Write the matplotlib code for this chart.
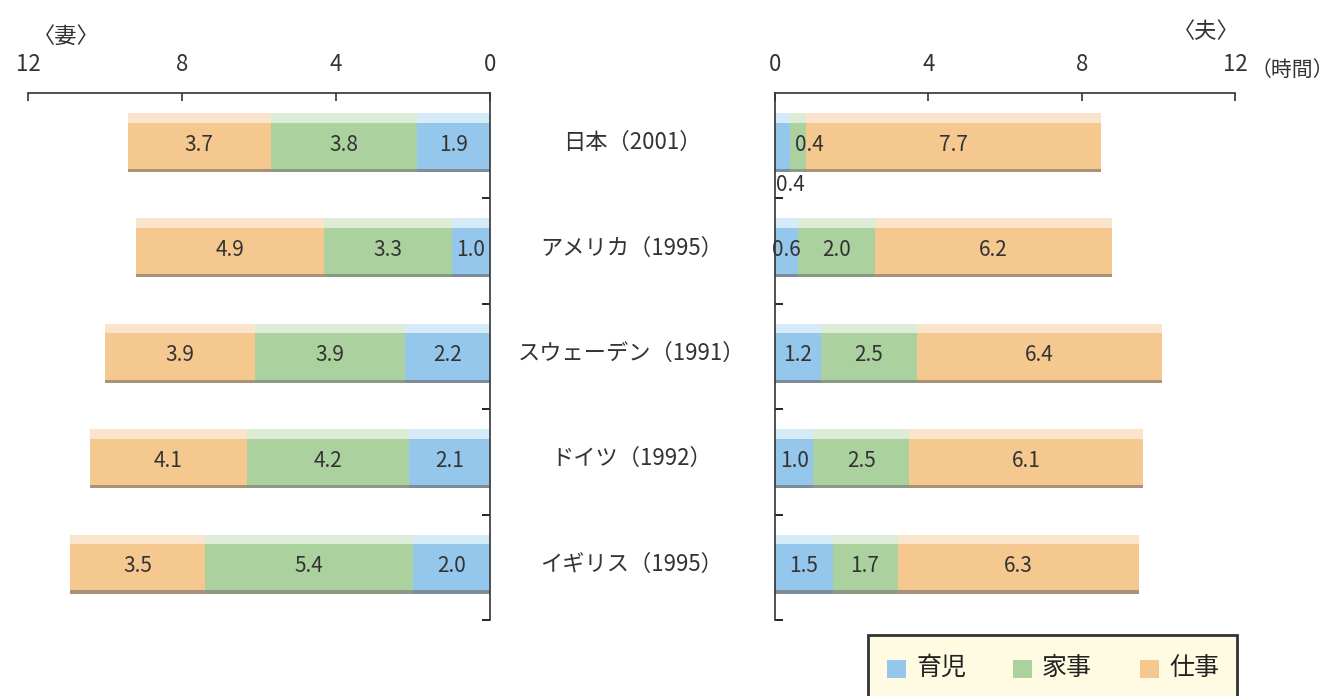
import matplotlib
matplotlib.use("Agg")
import matplotlib.pyplot as plt
import matplotlib.transforms as mtransforms
from matplotlib.patches import Rectangle
import numpy as np

plt.rcParams['font.family'] = ['Noto Sans CJK JP', 'DejaVu Sans']

# data (hours per day)
countries = ["日本（2001）", "アメリカ（1995）", "スウェーデン（1991）", "ドイツ（1992）", "イギリス（1995）"]
series = ["育児", "家事", "仕事"]
wife_childcare = [1.9, 1.0, 2.2, 2.1, 2.0]
wife_housework = [3.8, 3.3, 3.9, 4.2, 5.4]
wife_work = [3.7, 4.9, 3.9, 4.1, 3.5]
husband_childcare = [0.4, 0.6, 1.2, 1.0, 1.5]
husband_housework = [0.4, 2.0, 2.5, 2.5, 1.7]
husband_work = [7.7, 6.2, 6.4, 6.1, 6.3]
ticks = [0, 4, 8, 12]

colors = ["#94c7eb", "#abd19e", "#f4c88f"]
light = ["#d6ebf8", "#dcecd6", "#fbe4cc"]
dark = ["#7c8d9a", "#8a9a84", "#a89278"]
txt = "#333333"

fig = plt.figure(figsize=(13.34, 6.96), dpi=100)
axL = fig.add_axes([28 / 1334, 1 - 620 / 696, 462 / 1334, 527 / 696])
axR = fig.add_axes([775 / 1334, 1 - 620 / 696, 460 / 1334, 527 / 696])

ypos = np.arange(len(countries)) + 0.47
h = 0.56


def draw(ax, vals):
    left = np.zeros(len(countries))
    for k, v in enumerate(vals):
        v = np.array(v)
        ax.barh(ypos, v, left=left, height=h, color=colors[k], linewidth=0)
        ax.barh(ypos - h / 2 + 0.045, v, left=left, height=0.09, color=light[k], linewidth=0)
        ax.barh(ypos + h / 2 - 0.015, v, left=left, height=0.03, color=dark[k], linewidth=0)
        left = left + v
    return left


def setup(ax):
    ax.set_xlim(0, 12)
    ax.set_ylim(5, 0)
    ax.set_xticks(ticks)
    ax.xaxis.tick_top()
    ax.tick_params(axis='x', direction='in', length=6, width=1.2, pad=12,
                   labelsize=16, colors=txt)
    ax.set_yticks([1, 2, 3, 4, 5])
    ax.set_yticklabels([])
    ax.spines['bottom'].set_visible(False)
    ax.spines['top'].set_linewidth(1.2)
    ax.spines['top'].set_color('#333333')


# wife (left, reversed)
draw(axL, [wife_childcare, wife_housework, wife_work])
setup(axL)
axL.invert_xaxis()
axL.spines['left'].set_visible(False)
axL.spines['right'].set_linewidth(1.2)
axL.spines['right'].set_color('#333333')
axL.yaxis.tick_right()
axL.tick_params(axis='y', direction='in', length=6, width=1.2)

# husband (right)
draw(axR, [husband_childcare, husband_housework, husband_work])
setup(axR)
axR.spines['right'].set_visible(False)
axR.spines['left'].set_linewidth(1.2)
axR.spines['left'].set_color('#333333')
axR.tick_params(axis='y', direction='in', length=6, width=1.2)

fs = 15
# value labels, wife
for i in range(len(countries)):
    start = 0
    for v in [wife_childcare[i], wife_housework[i], wife_work[i]]:
        axL.text(start + v / 2, ypos[i] + 0.02, f"{v:.1f}", ha='center', va='center',
                 fontsize=fs, color=txt)
        start += v

# value labels, husband
for i in range(len(countries)):
    vals = [husband_childcare[i], husband_housework[i], husband_work[i]]
    start = 0
    for k, v in enumerate(vals):
        if v < 0.5 and k == 0:
            axR.text(start + 0.02, ypos[i] + h / 2 + 0.02, f"{v:.1f}", ha='left', va='top',
                     fontsize=fs, color=txt)
        elif v < 0.5:
            axR.text(start + 0.12, ypos[i] + 0.02, f"{v:.1f}", ha='left', va='center',
                     fontsize=fs, color=txt)
        else:
            axR.text(start + v / 2, ypos[i] + 0.02, f"{v:.1f}", ha='center', va='center',
                     fontsize=fs, color=txt)
        start += v

# country labels in the middle
trans = mtransforms.blended_transform_factory(fig.transFigure, axL.transData)
for i, c in enumerate(countries):
    fig.text(632 / 1334, ypos[i], c, transform=trans, ha='center', va='center',
             fontsize=16, color=txt)

fig.text(66 / 1334, 1 - 36 / 696, "〈妻〉", ha='center', va='center', fontsize=16, color=txt)
fig.text(1206 / 1334, 1 - 32 / 696, "〈夫〉", ha='center', va='center', fontsize=16, color=txt)
fig.text(1251 / 1334, 1 - 70 / 696, "（時間）", ha='left', va='center', fontsize=15, color=txt)

# legend box (cut at bottom edge like the original)
fig.patches.append(Rectangle((868 / 1334, -0.05), 369 / 1334, (696 - 635) / 696 + 0.05,
                             transform=fig.transFigure, facecolor='#fffbe2',
                             edgecolor='#333333', linewidth=2))
lx = [887, 1013, 1140]
for k, name in enumerate(series):
    fig.patches.append(Rectangle((lx[k] / 1334, 1 - 678 / 696), 19 / 1334, 18 / 696,
                                 transform=fig.transFigure, facecolor=colors[k], linewidth=0))
    fig.text((lx[k] + 29) / 1334, 1 - 668 / 696, name, ha='left', va='center',
             fontsize=18, color='#222222')

fig.savefig("out.png", dpi=100)
